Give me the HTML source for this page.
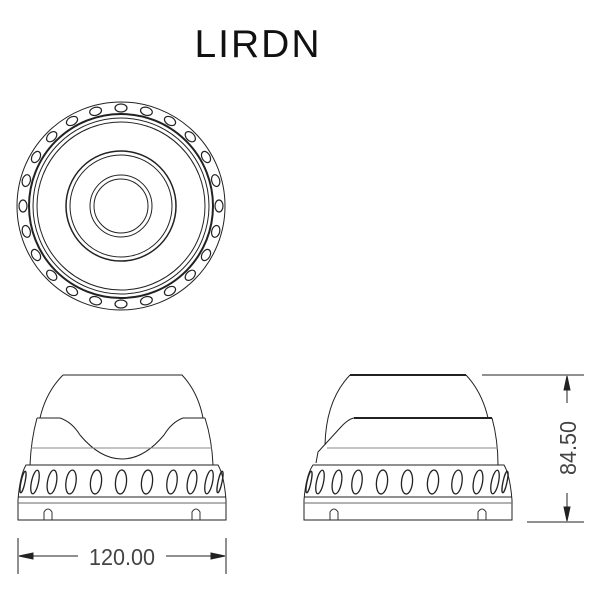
<!DOCTYPE html>
<html><head><meta charset="utf-8"><style>
html,body{margin:0;padding:0;background:#fff;}
svg{display:block;}
</style></head><body>
<svg width="600" height="610" viewBox="0 0 600 610" xmlns="http://www.w3.org/2000/svg" fill="none" stroke="#222" stroke-width="1">
<text x="258" y="57" font-family="Liberation Sans, sans-serif" font-size="39" fill="#111" stroke="none" text-anchor="middle" letter-spacing="2">LIRDN</text>

<!-- top view -->
<g>
<circle cx="121" cy="206" r="104"/>
<circle cx="121" cy="206" r="92" stroke-width="2"/>
<circle cx="121" cy="206" r="88"/>
<circle cx="121" cy="206" r="84"/>
<circle cx="121" cy="206" r="55" stroke-width="1.5"/>
<circle cx="121" cy="206" r="51"/>
<circle cx="121" cy="206" r="31"/>
<circle cx="121" cy="206" r="27"/>
<g stroke-width="1.2">
<ellipse cx="121" cy="108" rx="6" ry="4"/>
<ellipse cx="146.4" cy="111.3" rx="6" ry="4" transform="rotate(15 146.4 111.3)"/>
<ellipse cx="170" cy="121" rx="6" ry="4" transform="rotate(30 170 121)"/>
<ellipse cx="190.3" cy="136.7" rx="6" ry="4" transform="rotate(45 190.3 136.7)"/>
<ellipse cx="206" cy="157" rx="6" ry="4" transform="rotate(60 206 157)"/>
<ellipse cx="215.7" cy="180.6" rx="6" ry="4" transform="rotate(75 215.7 180.6)"/>
<ellipse cx="219" cy="206" rx="6" ry="4" transform="rotate(90 219 206)"/>
<ellipse cx="215.7" cy="231.4" rx="6" ry="4" transform="rotate(105 215.7 231.4)"/>
<ellipse cx="206" cy="255" rx="6" ry="4" transform="rotate(120 206 255)"/>
<ellipse cx="190.3" cy="275.3" rx="6" ry="4" transform="rotate(135 190.3 275.3)"/>
<ellipse cx="170" cy="291" rx="6" ry="4" transform="rotate(150 170 291)"/>
<ellipse cx="146.4" cy="300.7" rx="6" ry="4" transform="rotate(165 146.4 300.7)"/>
<ellipse cx="121" cy="304" rx="6" ry="4"/>
<ellipse cx="95.6" cy="300.7" rx="6" ry="4" transform="rotate(15 95.6 300.7)"/>
<ellipse cx="72" cy="291" rx="6" ry="4" transform="rotate(30 72 291)"/>
<ellipse cx="51.7" cy="275.3" rx="6" ry="4" transform="rotate(45 51.7 275.3)"/>
<ellipse cx="36" cy="255" rx="6" ry="4" transform="rotate(60 36 255)"/>
<ellipse cx="26.3" cy="231.4" rx="6" ry="4" transform="rotate(75 26.3 231.4)"/>
<ellipse cx="23" cy="206" rx="6" ry="4" transform="rotate(90 23 206)"/>
<ellipse cx="26.3" cy="180.6" rx="6" ry="4" transform="rotate(105 26.3 180.6)"/>
<ellipse cx="36" cy="157" rx="6" ry="4" transform="rotate(120 36 157)"/>
<ellipse cx="51.7" cy="136.7" rx="6" ry="4" transform="rotate(135 51.7 136.7)"/>
<ellipse cx="72" cy="121" rx="6" ry="4" transform="rotate(150 72 121)"/>
<ellipse cx="95.6" cy="111.3" rx="6" ry="4" transform="rotate(165 95.6 111.3)"/>
</g>
</g>

<!-- front view -->
<g>
<path d="M63 375 L182 375 Q198 392 203 418"/>
<path d="M63 375 Q46 392 40 418"/>
<path d="M37 418 L60 418 Q72 422 80 435 Q100 459 122 459 Q144 459 164 435 Q172 422 183 418 L205 418"/>
<path d="M37 418 Q31 440 30 465 M205 418 Q212 440 213 465"/>
<line x1="31" y1="448" x2="212" y2="448" stroke="#888"/>
<path d="M26 465 L218 465 Q224 475 226 500 L226 520 L18 520 L18 500 Q20 475 26 465 Z"/>
<line x1="18" y1="497" x2="226" y2="497"/>
<line x1="18" y1="503" x2="226" y2="503" stroke="#666"/>
<path d="M44 520 L44 512 Q48 506 52 512 L52 520 M192 520 L192 512 Q196 506 200 512 L200 520" stroke="#333"/>
<g stroke-width="1.3">
<ellipse cx="23" cy="482" rx="2" ry="11" transform="rotate(12 23 482)"/>
<ellipse cx="35" cy="482" rx="3.5" ry="12" transform="rotate(12 35 482)"/>
<ellipse cx="52" cy="482" rx="4.5" ry="12" transform="rotate(10 52 482)"/>
<ellipse cx="71" cy="482" rx="5" ry="12" transform="rotate(8 71 482)"/>
<ellipse cx="96" cy="482" rx="5.5" ry="12" transform="rotate(6 96 482)"/>
<ellipse cx="121" cy="482" rx="5.5" ry="12" transform="rotate(5 121 482)"/>
<ellipse cx="147" cy="482" rx="5.5" ry="12" transform="rotate(6 147 482)"/>
<ellipse cx="172" cy="482" rx="5" ry="12" transform="rotate(8 172 482)"/>
<ellipse cx="192" cy="482" rx="4.5" ry="12" transform="rotate(10 192 482)"/>
<ellipse cx="209" cy="482" rx="3.5" ry="12" transform="rotate(12 209 482)"/>
<ellipse cx="220" cy="482" rx="2" ry="11" transform="rotate(12 220 482)"/>
</g>
<line x1="18" y1="538" x2="18" y2="574"/>
<line x1="226" y1="538" x2="226" y2="574"/>
<line x1="19" y1="556" x2="78" y2="556"/>
<line x1="166" y1="556" x2="225" y2="556"/>
<path d="M19 556 L33 553 L33 559 Z M225 556 L211 553 L211 559 Z" fill="#222"/>
<text x="122" y="565" font-family="Liberation Sans, sans-serif" font-size="23" fill="#444" stroke="none" text-anchor="middle" textLength="66" lengthAdjust="spacingAndGlyphs">120.00</text>
</g>

<!-- side view -->
<g>
<path d="M350 375 L466 375" stroke-width="2"/>
<path d="M466 375 Q482 392 488 418"/>
<path d="M350 375 Q326 400 325 445"/>
<path d="M354 418 L492 418" stroke-width="2"/>
<path d="M354 418 Q348 419 340 428 L318 452 L316 463"/>
<path d="M492 418 Q498 440 498 465"/>
<line x1="327" y1="448" x2="498" y2="448" stroke="#888"/>
<path d="M313 465 L504 465 Q510 475 512 500 L512 520 L304 520 L304 500 Q306 475 313 465 Z"/>
<line x1="304" y1="497" x2="512" y2="497"/>
<line x1="304" y1="503" x2="512" y2="503" stroke="#666"/>
<path d="M330 520 L330 512 Q334 506 338 512 L338 520 M478 520 L478 512 Q482 506 486 512 L486 520" stroke="#333"/>
<g stroke-width="1.3">
<ellipse cx="309" cy="482" rx="2" ry="11" transform="rotate(12 309 482)"/>
<ellipse cx="320" cy="482" rx="3.5" ry="12" transform="rotate(12 320 482)"/>
<ellipse cx="337" cy="482" rx="4.5" ry="12" transform="rotate(10 337 482)"/>
<ellipse cx="357" cy="482" rx="5" ry="12" transform="rotate(8 357 482)"/>
<ellipse cx="382" cy="482" rx="5.5" ry="12" transform="rotate(6 382 482)"/>
<ellipse cx="407" cy="482" rx="5.5" ry="12" transform="rotate(5 407 482)"/>
<ellipse cx="433" cy="482" rx="5.5" ry="12" transform="rotate(6 433 482)"/>
<ellipse cx="457" cy="482" rx="5" ry="12" transform="rotate(8 457 482)"/>
<ellipse cx="478" cy="482" rx="4.5" ry="12" transform="rotate(10 478 482)"/>
<ellipse cx="495" cy="482" rx="3.5" ry="12" transform="rotate(12 495 482)"/>
<ellipse cx="505" cy="482" rx="2" ry="11" transform="rotate(12 505 482)"/>
</g>
<line x1="482" y1="375" x2="584" y2="375"/>
<line x1="527" y1="522" x2="584" y2="522"/>
<line x1="567" y1="376" x2="567" y2="403"/>
<line x1="567" y1="493" x2="567" y2="521"/>
<path d="M567 376 L564 390 L570 390 Z M567 521 L564 507 L570 507 Z" fill="#222"/>
<text x="0" y="0" transform="translate(576 448) rotate(-90)" font-family="Liberation Sans, sans-serif" font-size="23" fill="#444" stroke="none" text-anchor="middle" textLength="54" lengthAdjust="spacingAndGlyphs">84.50</text>
</g>
</svg>
</body></html>
